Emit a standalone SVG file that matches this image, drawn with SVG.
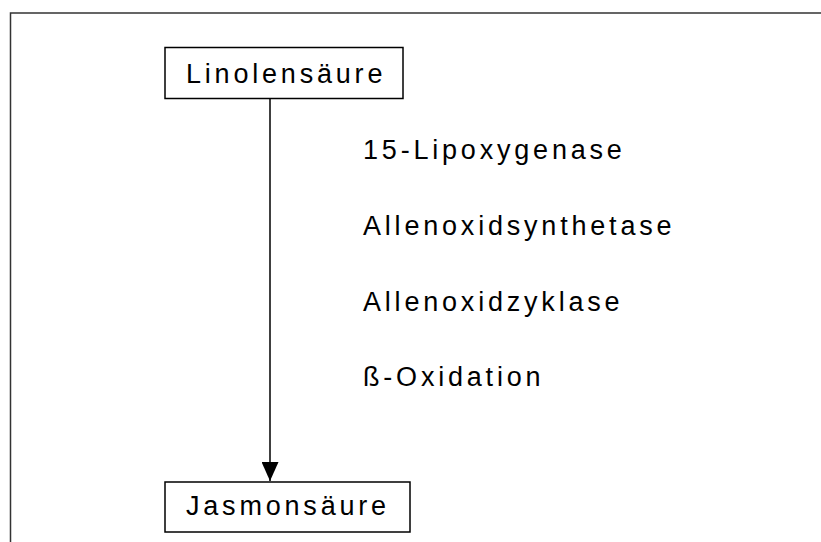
<svg xmlns="http://www.w3.org/2000/svg" width="821" height="542" viewBox="0 0 821 542">
<style>
.t{font-family:"Liberation Sans",Arial,sans-serif;font-size:27px;letter-spacing:3.8px;fill:#000}
.box{fill:#fff;stroke:#000;stroke-width:1.5}
</style>
<defs>
<marker id="ah" markerWidth="19" markerHeight="17" refX="19" refY="8.5" orient="auto" markerUnits="userSpaceOnUse">
<path d="M0,0 L19,8.5 L0,17 Z" fill="#000"/>
</marker>
</defs>
<rect width="821" height="542" fill="#fff"/>
<rect id="frame" x="10.5" y="13" width="830" height="560" fill="none" stroke="#333" stroke-width="1.5"/>
<g id="connectors">
<line x1="270" y1="98" x2="270" y2="481" stroke="#000" stroke-width="1.5" marker-end="url(#ah)"/>
</g>
<g id="linolensaeure">
<rect class="box" x="165" y="47.5" width="238" height="51"/>
<text class="t" x="186" y="83">Linolensäure</text>
</g>
<g id="jasmonsaeure">
<rect class="box" x="165" y="482" width="245" height="50"/>
<text class="t" x="186" y="515">Jasmonsäure</text>
</g>
<g id="enzymes">
<text class="t" x="363" y="159">15-Lipoxygenase</text>
<text class="t" x="363" y="235">Allenoxidsynthetase</text>
<text class="t" x="363" y="311">Allenoxidzyklase</text>
<text class="t" x="363" y="386">ß-Oxidation</text>
</g>
</svg>
